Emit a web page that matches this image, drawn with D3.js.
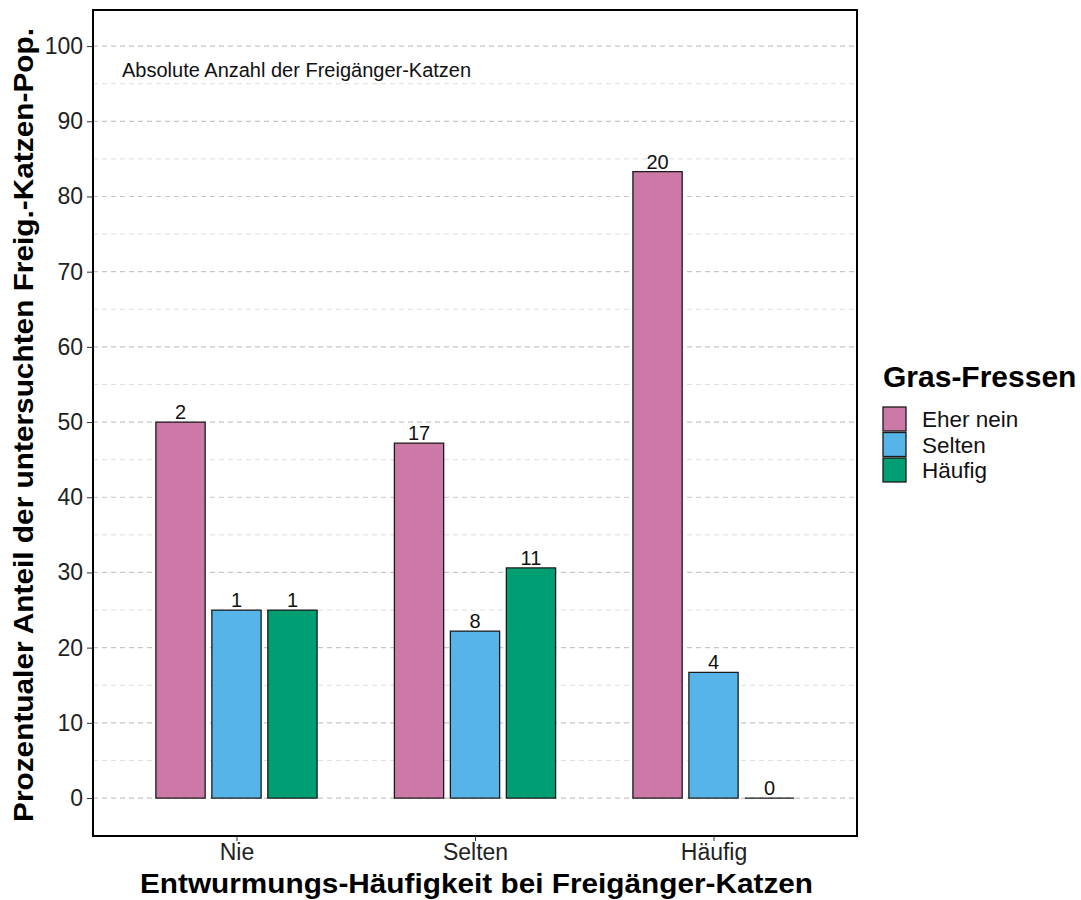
<!DOCTYPE html>
<html><head><meta charset="utf-8">
<script src="https://cdn.jsdelivr.net/npm/d3@7"></script>
<style>body{margin:0;background:#fff;} text{font-family:"Liberation Sans",Arial,Helvetica,sans-serif;}</style>
</head><body>
<svg id="c" width="1081" height="900"></svg>
<script>
const categories = ["Nie", "Selten", "Häufig"];
const series = ["Eher nein", "Selten", "Häufig"];
const colors = ["#CC79A7", "#56B4E9", "#009E73"];
// percentage values per series (one entry per category)
const pctEherNein = [50.0, 47.2, 83.3];
const pctSelten   = [25.0, 22.2, 16.7];
const pctHaeufig  = [25.0, 30.6, 0.0];
// absolute counts shown as labels
const cntEherNein = [2, 17, 20];
const cntSelten   = [1, 8, 4];
const cntHaeufig  = [1, 11, 0];
const yTicks = [0,10,20,30,40,50,60,70,80,90,100];
const yMinor = [5,15,25,35,45,55,65,75,85,95];
const annotation = "Absolute Anzahl der Freigänger-Katzen";
const xTitle = "Entwurmungs-Häufigkeit bei Freigänger-Katzen";
const yTitle = "Prozentualer Anteil der untersuchten Freig.-Katzen-Pop.";
const legendTitle = "Gras-Fressen";

const pct = [pctEherNein, pctSelten, pctHaeufig];
const cnt = [cntEherNein, cntSelten, cntHaeufig];
const data = [];
categories.forEach((c, ci) => series.forEach((s, si) => data.push({c, s, si, v: pct[si][ci], n: cnt[si][ci]})));

const svg = d3.select("#c");
const P = {l: 93, r: 857, t: 10, b: 836};
const x = d3.scalePoint().domain(categories).range([P.l, P.r]).padding(0.6016);
const step = x.step();
const sub = d3.scaleBand().domain(series).range([-0.352*step, 0.352*step]).paddingInner(0.12).paddingOuter(0.06);
const y = d3.scaleLinear().domain([-5.05, 104.8]).range([P.b, P.t]);

// grid
svg.append("g").selectAll("line").data(yMinor).join("line")
  .attr("x1", P.l).attr("x2", P.r).attr("y1", d=>y(d)).attr("y2", d=>y(d))
  .attr("stroke", "#d9d9d9").attr("stroke-width", 0.9).attr("stroke-dasharray", "5,4");
svg.append("g").selectAll("line").data(yTicks).join("line")
  .attr("x1", P.l).attr("x2", P.r).attr("y1", d=>y(d)).attr("y2", d=>y(d))
  .attr("stroke", "#c6c6c6").attr("stroke-width", 1.2).attr("stroke-dasharray", "5,4");

// bars
svg.append("g").selectAll("path").data(data).join("path")
  .attr("d", d => {
    const x0 = x(d.c) + sub(d.s), x1 = x0 + sub.bandwidth();
    return `M${x0},${y(0)}V${y(d.v)}H${x1}V${y(0)}Z`;
  })
  .attr("fill", d => colors[d.si]).attr("stroke", "#1a1a1a").attr("stroke-width", 1.3);

// labels
svg.append("g").selectAll("text").data(data).join("text")
  .attr("x", d => x(d.c) + sub(d.s) + sub.bandwidth()/2)
  .attr("y", d => y(d.v) - 3)
  .attr("text-anchor", "middle").attr("font-size", 20).attr("fill", "#111")
  .text(d => d.n);

// annotation
svg.append("text").attr("x", 122).attr("y", 77).attr("font-size", 20)
  .attr("fill", "#111").text(annotation);

// panel border
svg.append("rect").attr("x", P.l).attr("y", P.t).attr("width", P.r-P.l).attr("height", P.b-P.t)
  .attr("fill", "none").attr("stroke", "#000").attr("stroke-width", 2);

// y axis
const ya = svg.append("g").attr("transform", `translate(${P.l},0)`)
  .call(d3.axisLeft(y).tickValues(yTicks).tickSize(6).tickPadding(4).tickFormat(d3.format("d")));
ya.select(".domain").remove();
ya.selectAll("text").attr("font-size", 23).attr("fill", "#222").attr("font-family", "Liberation Sans, Arial, sans-serif");
ya.selectAll("line").attr("stroke", "#333");

// x axis
const xa = svg.append("g").attr("transform", `translate(0,${P.b})`)
  .call(d3.axisBottom(x).tickSize(5).tickPadding(3));
xa.select(".domain").remove();
xa.selectAll("text").attr("font-size", 23).attr("fill", "#222").attr("font-family", "Liberation Sans, Arial, sans-serif");
xa.selectAll("line").attr("stroke", "#333");

// axis titles
svg.append("text").attr("x", 476.5).attr("y", 893).attr("text-anchor", "middle")
  .attr("font-size", 28).attr("font-weight", "bold").attr("fill", "#000")
  .attr("textLength", 673).attr("lengthAdjust", "spacingAndGlyphs").text(xTitle);
svg.append("text").attr("transform", `translate(33,425) rotate(-90)`).attr("text-anchor", "middle")
  .attr("font-size", 28).attr("font-weight", "bold").attr("fill", "#000")
  .attr("textLength", 794).attr("lengthAdjust", "spacingAndGlyphs").text(yTitle);

// legend
const lg = svg.append("g").attr("transform", "translate(882,0)");
lg.append("text").attr("x", 1).attr("y", 387).attr("font-size", 30).attr("font-weight", "bold").text(legendTitle);
const items = lg.selectAll("g").data(series).join("g").attr("transform", (d,i) => `translate(0,${407 + i*25.5})`);
items.append("rect").attr("x", 1).attr("y", 0).attr("width", 23).attr("height", 24)
  .attr("fill", (d,i)=>colors[i]).attr("stroke", "#1a1a1a").attr("stroke-width", 1.3);
items.append("text").attr("x", 40).attr("y", 20).attr("font-size", 22.5).attr("fill", "#111").text(d=>d);
</script>
</body></html>
